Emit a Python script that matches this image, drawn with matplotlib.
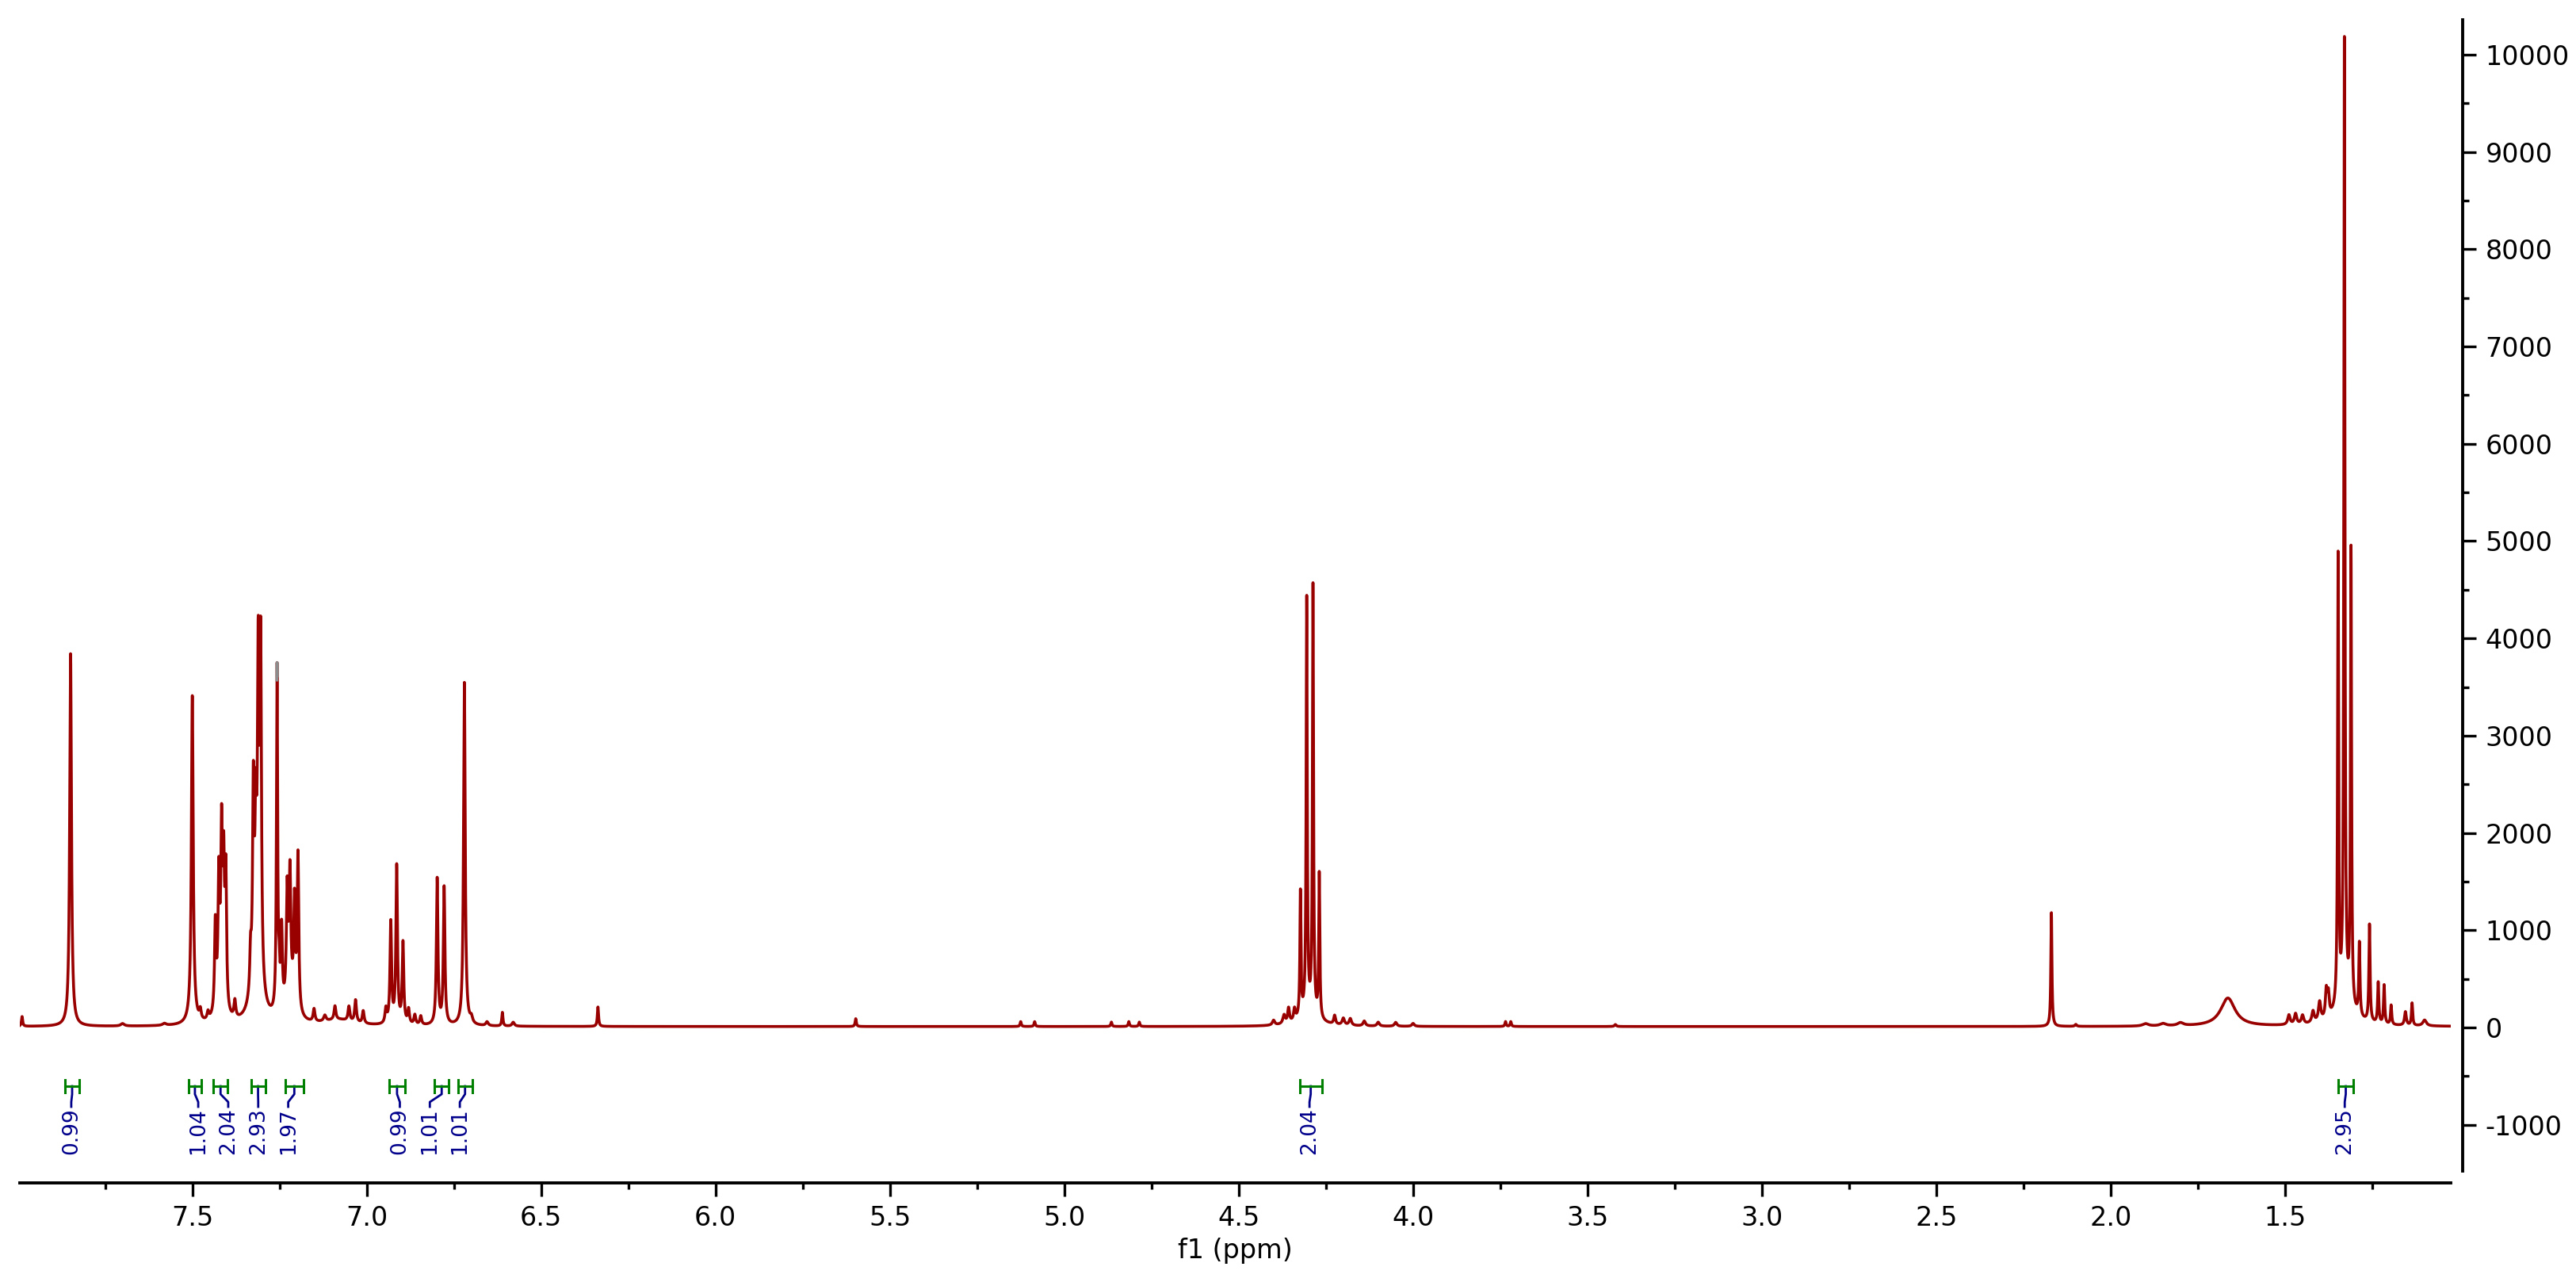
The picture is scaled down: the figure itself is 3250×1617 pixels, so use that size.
import numpy as np
import matplotlib
matplotlib.use('Agg')
import matplotlib.pyplot as plt
from matplotlib.ticker import MultipleLocator, FormatStrFormatter

plt.rcParams.update({
    'font.family': 'DejaVu Sans', 'axes.unicode_minus': False,
})

# ---------------------------------------------------------------------------
# 1H NMR peak list (ppm, height, half width in ppm)
# ---------------------------------------------------------------------------
PEAK_PPM = [7.988, 7.70, 7.58, 7.849, 7.500, 7.50, 7.477, 7.455,
            7.434, 7.424, 7.416, 7.410, 7.404, 7.42, 7.378,
            7.333, 7.325, 7.318, 7.311, 7.304, 7.315,
            7.257, 7.251,
            7.244, 7.228, 7.220, 7.207, 7.197, 7.22,
            7.151, 7.12, 7.091, 7.051, 7.032, 7.010, 7.08,
            6.945, 6.931, 6.914, 6.896, 6.880, 6.862, 6.845,
            6.798, 6.778, 6.720, 6.700, 6.655, 6.611, 6.580,
            6.337, 5.598, 5.125, 5.085, 4.865, 4.815, 4.785,
            4.40, 4.37, 4.357, 4.340, 4.323, 4.305, 4.287, 4.269, 4.30,
            4.225, 4.20, 4.18, 4.14, 4.10, 4.05, 4.00,
            3.735, 3.720, 3.42, 2.170, 2.10,
            1.90, 1.85, 1.80, 1.664,
            1.489, 1.470, 1.450, 1.420, 1.401, 1.382, 1.376, 1.33,
            1.348, 1.330, 1.311,
            1.287, 1.258, 1.233, 1.216, 1.196, 1.155, 1.136, 1.10]
PEAK_HEIGHT = [100, 25, 20, 3830, 3300, 80, 100, 80,
               900, 1220, 1640, 1330, 1350, 250, 180,
               400, 1940, 1330, 3000, 3350, 600,
               3550, 300,
               810, 1070, 1150, 1035, 1600, 350,
               130, 60, 140, 150, 230, 130, 60,
               150, 1040, 1620, 830, 150, 100, 90,
               1500, 1410, 3530, 60, 40, 140, 40,
               200, 80, 50, 50, 45, 50, 45,
               50, 90, 150, 120, 1280, 4260, 4400, 1480, 120,
               90, 70, 70, 50, 40, 40, 30,
               50, 50, 20, 1170, 20,
               25, 25, 30, 290,
               100, 110, 90, 120, 200, 280, 230, 220,
               4610, 9880, 4690,
               750, 1000, 420, 400, 200, 140, 230, 60]
PEAK_WIDTH = [0.002, 0.006, 0.006, 0.003, 0.003, 0.012, 0.003, 0.003,
              0.0026, 0.0026, 0.0026, 0.0026, 0.0026, 0.010, 0.003,
              0.0026, 0.0026, 0.0026, 0.0026, 0.0026, 0.015,
              0.002, 0.002,
              0.0026, 0.0026, 0.0026, 0.0026, 0.0026, 0.014,
              0.003, 0.004, 0.003, 0.003, 0.003, 0.003, 0.05,
              0.003, 0.0026, 0.0026, 0.0026, 0.003, 0.003, 0.003,
              0.0026, 0.0026, 0.0028, 0.004, 0.004, 0.002, 0.004,
              0.002, 0.002, 0.002, 0.002, 0.002, 0.002, 0.002,
              0.004, 0.004, 0.003, 0.003, 0.0018, 0.0018, 0.0018, 0.0018, 0.03,
              0.003, 0.004, 0.004, 0.004, 0.004, 0.004, 0.004,
              0.002, 0.002, 0.003, 0.0018, 0.003,
              0.01, 0.01, 0.01, 0.025,
              0.004, 0.004, 0.004, 0.004, 0.004, 0.003, 0.003, 0.03,
              0.0018, 0.0018, 0.0018,
              0.002, 0.002, 0.002, 0.002, 0.002, 0.003, 0.002, 0.006]
BASE_LEVEL = 10
SOLVENT_PPM, SOLVENT_CUT = 7.257, 3510   # grey tip on the CHCl3 line

# integrals: region (ppm), value text, label position (ppm)
INT_HI    = [7.865, 7.511, 7.440, 7.332, 7.233, 6.936, 6.806, 6.738, 4.325, 1.348]
INT_LO    = [7.824, 7.474, 7.398, 7.291, 7.182, 6.890, 6.764, 6.698, 4.262, 1.304]
INT_TEXT  = ['0.99', '1.04', '2.04', '2.93', '1.97', '0.99', '1.01', '1.01', '2.04', '2.95']
LABEL_PPM = [7.847, 7.483, 7.397, 7.311, 7.225, 6.905, 6.819, 6.733, 4.297, 1.329]

XMAX, XMIN = 7.9945, 1.025
YMIN, YMAX = -1475, 10358

# ---------------------------------------------------------------------------
ppm = np.linspace(XMAX, XMIN, 40000)
spec = np.full_like(ppm, BASE_LEVEL, dtype=float)
for c, h, w in zip(PEAK_PPM, PEAK_HEIGHT, PEAK_WIDTH):
    spec += h / (1 + ((ppm - c) / w) ** 2)

fig = plt.figure(figsize=(32.5, 16.17), dpi=100)
ax = fig.add_axes([25/3250, 1 - 1477/1617, (3092-25)/3250, (1477-25)/1617])

RED = '#990000'; GREEN = '#008000'; NAVY = '#00008B'
ax.plot(ppm, spec, color=RED, lw=2.6)
tip = np.where((np.abs(ppm - SOLVENT_PPM) < 0.004) & (spec > SOLVENT_CUT), spec, np.nan)
ax.plot(ppm, tip, color='#8c8c8c', lw=2.6)

# integral brackets + labels
y_bar, cap = -603, 65
for hi, lo, txt, lx in zip(INT_HI, INT_LO, INT_TEXT, LABEL_PPM):
    c = (hi + lo) / 2
    ax.plot([c, c, lx, lx], [y_bar, -685, -766, -815], color=NAVY, lw=2.0)
    ax.plot([hi, lo], [y_bar, y_bar], color=GREEN, lw=2.2)
    ax.plot([hi, hi], [y_bar - cap, y_bar + cap], color=GREEN, lw=2.2)
    ax.plot([lo, lo], [y_bar - cap, y_bar + cap], color=GREEN, lw=2.2)
    ax.text(lx, -822, txt, rotation=90, ha='center', va='top',
            fontsize=19, color=NAVY)

ax.set_xlim(XMAX, XMIN); ax.set_ylim(YMIN, YMAX)
ax.spines[['top', 'left']].set_visible(False)
ax.spines['bottom'].set_position(('outward', 10.8))
ax.spines['right'].set_position(('outward', 10.8))
for s in ['bottom', 'right']:
    ax.spines[s].set_linewidth(2.8)
ax.yaxis.tick_right()
ax.xaxis.set_major_locator(MultipleLocator(0.5))
ax.xaxis.set_minor_locator(MultipleLocator(0.25))
ax.xaxis.set_major_formatter(FormatStrFormatter('%.1f'))
ax.yaxis.set_major_locator(MultipleLocator(1000))
ax.yaxis.set_minor_locator(MultipleLocator(500))
ax.tick_params(which='major', length=12.5, width=2.4, labelsize=24, pad=8)
ax.tick_params(which='minor', length=6, width=2.4)
ax.set_xlabel('f1 (ppm)', fontsize=24)
ax.xaxis.set_label_coords(0.5, -0.058)

fig.savefig('out.png', dpi=100, facecolor='white')
